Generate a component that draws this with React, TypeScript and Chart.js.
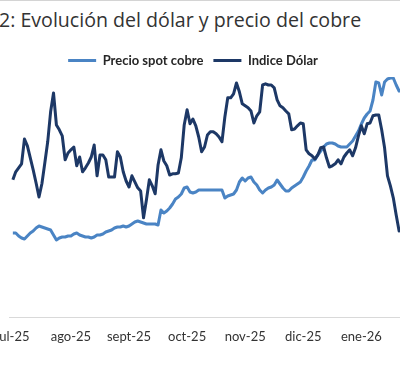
import { useEffect, useRef } from 'react';
import { Chart, registerables } from 'chart.js';

Chart.register(...registerables);

// Month tick labels and the trading-day index where each month starts
const MONTH_LABELS = ['jul-25', 'ago-25', 'sept-25', 'oct-25', 'nov-25', 'dic-25', 'ene-26'];
const MONTH_POS = [0, 20, 40, 60, 80, 100, 120];

const SERIES_NAMES = ['Precio spot cobre', 'Indice Dólar'];

// Precio spot cobre (USD/t, approx.)
const COBRE = [
  9880, 9880, 9820, 9780, 9760, 9820, 9880, 9920, 9980, 10020,
  10000, 9980, 9960, 9940, 9840, 9740, 9780, 9800, 9800, 9820,
  9820, 9860, 9880, 9840, 9820, 9800, 9800, 9780, 9800, 9840,
  9840, 9860, 9900, 9920, 9940, 9980, 10000, 10000, 10020, 10000,
  10020, 10060, 10100, 10120, 10100, 10080, 10060, 10060, 10060, 10060,
  10040, 10340, 10280, 10320, 10380, 10460, 10560, 10600, 10660, 10780,
  10800, 10700, 10680, 10700, 10740, 10740, 10740, 10740, 10740, 10740,
  10740, 10740, 10740, 10580, 10620, 10640, 10660, 10740, 10900, 10980,
  10920, 10980, 11000, 10900, 10840, 10740, 10680, 10740, 10780, 10800,
  10840, 10940, 10860, 10780, 10720, 10720, 10780, 10820, 10860, 10900,
  11000, 11120, 11220, 11340, 11340, 11440, 11520, 11600, 11660, 11680,
  11680, 11660, 11620, 11600, 11600, 11600, 11660, 11720, 11820, 11920,
  12060, 12180, 12260, 12320, 12540, 12900, 12880, 12640, 12900, 12960,
  12980, 12980, 12840, 12720, 12720,
];

// Indice Dólar (points, approx.)
const DOLAR = [
  97.43, 97.63, 97.73, 97.83, 98.45, 98.28, 97.98, 97.68, 97.35, 97.0,
  97.33, 97.85, 98.38, 99.13, 99.6, 98.8, 98.68, 98.53, 97.93, 98.1,
  98.18, 98.25, 97.78, 98.0, 97.63, 97.73, 97.85, 98.0, 98.3, 97.53,
  98.05, 98.05, 97.93, 97.5, 97.5, 97.5, 98.13, 98.0, 97.63, 97.4,
  97.25, 97.53, 97.38, 97.23, 97.15, 96.48, 96.93, 97.43, 97.28, 97.08,
  97.8, 98.18, 97.9, 97.78, 97.55, 97.58, 97.58, 97.6, 97.98, 98.8,
  99.18, 98.83, 98.95, 98.78, 98.5, 98.13, 98.25, 98.55, 98.63, 98.63,
  98.58, 98.5, 98.38, 99.0, 99.48, 99.48, 99.58, 99.85, 99.63, 99.33,
  99.28, 99.23, 99.15, 98.85, 99.03, 99.13, 99.8, 99.83, 99.8, 99.8,
  99.73, 99.43, 99.28, 99.23, 99.15, 99.08, 98.68, 98.7, 98.78, 98.85,
  98.83, 98.18, 98.08, 98.03, 97.95, 98.05, 98.23, 98.25, 97.98, 97.75,
  97.78, 97.83, 97.93, 97.83, 98.0, 98.1, 98.18, 98.03, 98.23, 98.53,
  98.78, 98.58, 98.83, 98.85, 99.03, 99.05, 99.05, 98.68, 98.23, 97.53,
  97.28, 96.98, 96.55, 96.15, 96.23,
];

const LIGHT = '#4a84c4';
const DARK = '#1d3866';

export default function App() {
  const ref = useRef<HTMLCanvasElement>(null);

  useEffect(() => {
    if (!ref.current) return;
    const defaultGen = Chart.defaults.plugins.legend.labels.generateLabels;
    const chart = new Chart(ref.current, {
      type: 'line',
      data: {
        datasets: [
          {
            label: SERIES_NAMES[0],
            data: COBRE.map((y, x) => ({ x, y })),
            borderColor: LIGHT,
            backgroundColor: LIGHT,
            borderWidth: 3,
            pointRadius: 0,
            tension: 0,
            borderJoinStyle: 'round',
            yAxisID: 'y',
            order: 1,
          },
          {
            label: SERIES_NAMES[1],
            data: DOLAR.map((y, x) => ({ x, y })),
            borderColor: DARK,
            backgroundColor: DARK,
            borderWidth: 3,
            pointRadius: 0,
            tension: 0,
            borderJoinStyle: 'round',
            yAxisID: 'y1',
            order: 0,
          },
        ],
      },
      options: {
        responsive: true,
        maintainAspectRatio: false,
        animation: false,
        events: [],
        layout: { padding: { top: 4, left: 0, right: 0, bottom: 0 } },
        plugins: {
          tooltip: { enabled: false },
          title: { display: false },
          legend: {
            display: true,
            position: 'top',
            labels: {
              boxWidth: 28,
              boxHeight: 3,
              padding: 10,
              color: '#262626',
              font: { family: 'Lato', size: 13, weight: 'bold' },
              sort: (a: any, b: any) => a.datasetIndex - b.datasetIndex,
              generateLabels: (c: any) =>
                defaultGen(c).map((l: any) => ({ ...l, lineWidth: 0, fillStyle: l.strokeStyle })),
            },
          },
        },
        scales: {
          x: {
            type: 'linear',
            min: -1,
            max: 134,
            grid: { display: false, drawTicks: false },
            border: { display: true, color: '#d9d9d9', width: 1 },
            afterBuildTicks: (scale: any) => {
              scale.ticks = MONTH_POS.map((v) => ({ value: v }));
            },
            ticks: {
              autoSkip: false,
              maxRotation: 0,
              minRotation: 0,
              padding: 12,
              color: '#333333',
              font: { family: 'Lato', size: 13 },
              callback: (value: any) => {
                const k = MONTH_POS.indexOf(Number(value));
                return k >= 0 ? MONTH_LABELS[k] : '';
              },
            },
          },
          y: {
            type: 'linear',
            position: 'left',
            display: true,
            min: 8192,
            max: 13000,
            grid: { display: false, drawTicks: false },
            border: { display: false },
            ticks: { display: false },
            afterFit: (scale: any) => {
              scale.width = 25;
            },
          },
          y1: {
            type: 'linear',
            position: 'right',
            display: false,
            min: 93.99,
            max: 100,
          },
        },
      },
    });
    return () => chart.destroy();
  }, []);

  return (
    <div
      style={{
        position: 'fixed',
        left: 0,
        top: 0,
        width: 400,
        height: 365,
        overflow: 'hidden',
        background: '#ffffff',
        fontFamily: '"Open Sans", sans-serif',
      }}
    >
      <div style={{ position: 'absolute', left: 0, top: 0, width: 400, height: 1, background: '#d4d4d4' }} />
      <div
        style={{
          position: 'absolute',
          left: -1,
          top: 8,
          whiteSpace: 'nowrap',
          fontFamily: '"Open Sans", sans-serif',
          fontSize: 19.6,
          lineHeight: '24px',
          color: '#333333',
        }}
      >
        <span style={{ position: 'absolute', right: '100%', top: 0 }}>Gráfico&nbsp;</span>
        2: Evolución del dólar y precio del cobre
      </div>
      <div style={{ position: 'absolute', left: -16, top: 40, width: 418, height: 317 }}>
        <canvas ref={ref} />
      </div>
    </div>
  );
}
